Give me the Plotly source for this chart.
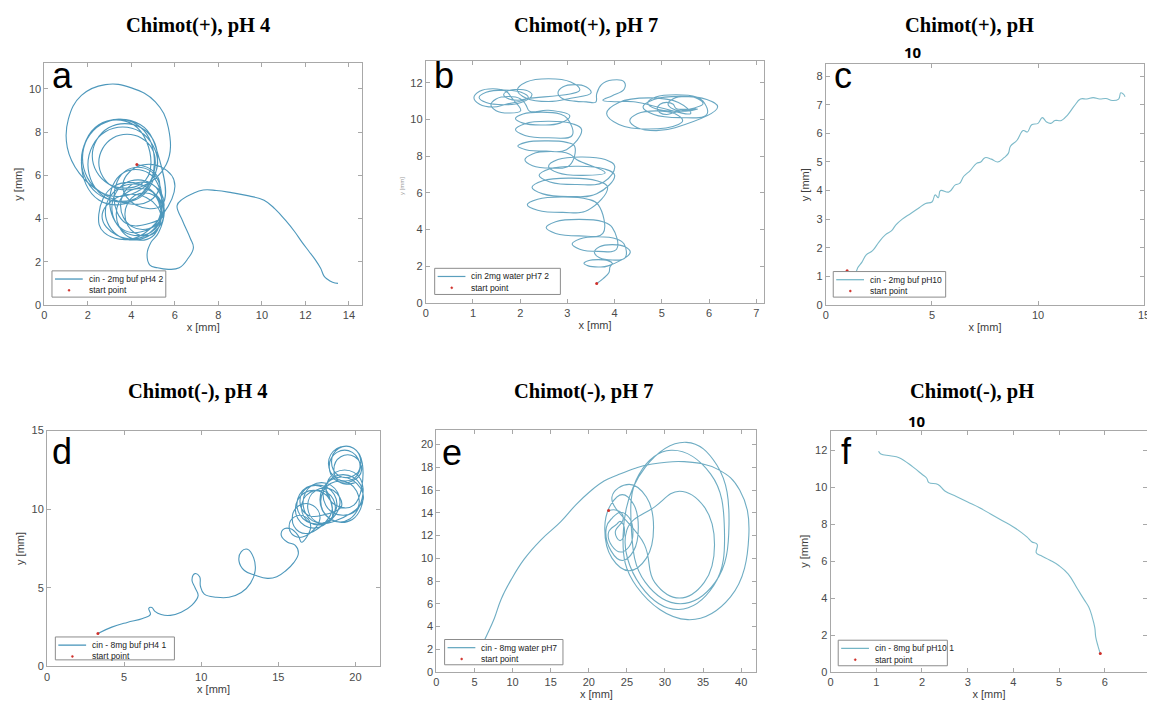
import plotly.graph_objects as go

W, H = 1155, 708

# ------------------------------------------------------------------ data
# (a) Chimot(+), pH 4  -- trajectory points (x [mm], y [mm])
traj_a = [
    (13.5, 1.0), (13.25, 1.05), (13.0, 1.2), (12.85, 1.35), (12.7, 1.7), (12.45, 2.1),
    (12.15, 2.5), (11.85, 2.9), (11.5, 3.4), (11.1, 3.9), (10.6, 4.45), (10.1, 4.85),
    (9.4, 5.05), (8.6, 5.2), (7.9, 5.3), (7.3, 5.32), (6.8, 5.15), (6.35, 4.9), (6.1, 4.6),
    (6.35, 3.9), (6.7, 3.1), (6.85, 2.65), (6.6, 2.15), (6.2, 1.72), (5.7, 1.65), (5.2, 1.72),
    (4.85, 1.85), (4.72, 2.35), (4.9, 2.9), (5.25, 3.35),
    (5.5, 4.5), (4.9, 5.63), (3.7, 5.63), (3.1, 4.5), (3.7, 3.37), (4.9, 3.37),
    (5.4, 4.3), (4.75, 5.43), (3.45, 5.43), (2.8, 4.3), (3.45, 3.17), (4.75, 3.17),
    (5.5, 4.2), (4.95, 5.24), (3.85, 5.24), (3.3, 4.2), (3.85, 3.16), (4.95, 3.16),
    (5.4, 4.8), (4.8, 6.1), (3.6, 6.1), (3.0, 4.8), (3.6, 3.5), (4.8, 3.5),
    (5.35, 4.1), (4.68, 4.97), (3.33, 4.97), (2.65, 4.1), (3.33, 3.23), (4.68, 3.23),
    (5.5, 4.6), (5.0, 5.56), (4.0, 5.56), (3.5, 4.6), (4.0, 3.64), (5.0, 3.64),
    (5.4, 5.0), (4.85, 6.22), (3.75, 6.22), (3.2, 5.0), (3.75, 3.78), (4.85, 3.78),
    (5.5, 4.2), (5.05, 5.07), (4.15, 5.07), (3.7, 4.2), (4.15, 3.33), (5.05, 3.33),
    (5.35, 4.4), (4.63, 5.49), (3.18, 5.49), (2.5, 4.2), (2.75, 3.35), (4.3, 3.15),
    (6.0, 5.5), (5.4, 6.37), (4.2, 6.37), (3.6, 5.5), (4.2, 4.63), (5.4, 4.63),
    (5.3, 6.7), (4.4, 8.35), (2.6, 8.35), (1.7, 6.7), (2.6, 5.05), (4.4, 5.05),
    (5.05, 6.8), (4.23, 8.37), (2.58, 8.37), (1.75, 6.8), (2.58, 5.23), (4.23, 5.23),
    (5.2, 6.5), (4.4, 8.02), (2.8, 8.02), (2.0, 6.5), (2.8, 4.98), (4.4, 4.98),
    (5.2, 6.9), (4.45, 8.2), (2.95, 8.2), (2.2, 6.9), (2.95, 5.6), (4.45, 5.6),
    (4.9, 6.6), (4.1, 8.34), (2.5, 8.34), (1.7, 6.6), (2.5, 4.86), (4.1, 4.86),
    (5.1, 6.6), (4.45, 7.73), (3.15, 7.73), (2.5, 6.6), (3.15, 5.47), (4.45, 5.47),
    (5.6, 6.5), (5.7, 8.2), (5.1, 9.4), (4.0, 10.05), (2.8, 10.2), (1.7, 9.7), (1.1, 8.6),
    (1.05, 7.3), (1.6, 6.1), (2.6, 5.2), (3.8, 4.7), (4.8, 4.8), (5.3, 5.5), (5.0, 6.2),
    (4.25, 6.5),
]
start_a = (4.25, 6.5)

# (b) Chimot(+), pH 7
traj_b = [
    (3.62, 1.05), (3.75, 1.3), (3.88, 1.65), (3.9, 1.95),
    (3.95, 2.15), (3.86, 2.29), (3.65, 2.35), (3.44, 2.29), (3.35, 2.15), (3.44, 2.01), (3.65, 1.95), (3.86, 2.01),
    (4.33, 2.75), (4.22, 3.05), (3.95, 3.17), (3.68, 3.05), (3.57, 2.75), (3.68, 2.45), (3.95, 2.33), (4.22, 2.45),
    (4.2, 3.2), (4.04, 3.48), (3.65, 3.6), (3.26, 3.48), (3.1, 3.2), (3.26, 2.92), (3.65, 2.8), (4.04, 2.92),
    (3.95, 4.1), (3.75, 4.42), (3.25, 4.55), (2.75, 4.42), (2.55, 4.1), (2.75, 3.78), (3.25, 3.65), (3.75, 3.78),
    (3.65, 5.35), (3.43, 5.65), (2.9, 5.77), (2.37, 5.65), (2.15, 5.35), (2.37, 5.05), (2.9, 4.93), (3.43, 5.05),
    (3.85, 6.3), (3.62, 6.66), (3.05, 6.8), (2.48, 6.66), (2.25, 6.3), (2.48, 5.94), (3.05, 5.8), (3.62, 5.94),
    (4.0, 6.95), (3.77, 7.31), (3.2, 7.45), (2.63, 7.31), (2.4, 6.95), (2.63, 6.59), (3.2, 6.45), (3.77, 6.59),
    (4.0, 7.45), (3.8, 7.81), (3.3, 7.95), (2.8, 7.81), (2.6, 7.45), (2.8, 7.09), (3.3, 6.95), (3.8, 7.09),
    (3.2, 7.8), (3.04, 8.12), (2.65, 8.25), (2.26, 8.12), (2.1, 7.8), (2.26, 7.48), (2.65, 7.35), (3.04, 7.48),
    (3.15, 8.55), (2.98, 8.75), (2.55, 8.83), (2.12, 8.75), (1.95, 8.55), (2.12, 8.35), (2.55, 8.27), (2.98, 8.35),
    (3.3, 9.45), (3.1, 9.77), (2.6, 9.9), (2.1, 9.77), (1.9, 9.45), (2.1, 9.13), (2.6, 9.0), (3.1, 9.13),
    (3.0, 10.05), (2.84, 10.3), (2.45, 10.4), (2.06, 10.3), (1.9, 10.05), (2.06, 9.8), (2.45, 9.7), (2.84, 9.8),
    (3.05, 10.2), (2.6, 10.5), (2.2, 10.45),
    (2.12, 10.8), (2.01, 11.12), (1.75, 11.25), (1.49, 11.12), (1.38, 10.8), (1.49, 10.48), (1.75, 10.35), (2.01, 10.48),
    (1.82, 11.18), (1.7, 11.54), (1.42, 11.68), (1.14, 11.54), (1.02, 11.18), (1.14, 10.83), (1.42, 10.68), (1.7, 10.83),
    (2.17, 11.2), (2.02, 11.48), (1.65, 11.6), (1.28, 11.48), (1.13, 11.2), (1.28, 10.92), (1.65, 10.8), (2.02, 10.92),
    (2.25, 11.35), (2.16, 11.56), (1.95, 11.65), (1.74, 11.56), (1.65, 11.35), (1.74, 11.14), (1.95, 11.05), (2.16, 11.14),
    (3.26, 11.6), (3.07, 12.04), (2.6, 12.22), (2.13, 12.04), (1.94, 11.6), (2.13, 11.16), (2.6, 10.98), (3.07, 11.16),
    (3.5, 11.45), (3.4, 11.77), (3.15, 11.9), (2.9, 11.77), (2.8, 11.45), (2.9, 11.13), (3.15, 11.0), (3.4, 10.96),
    (3.6, 10.95), (3.62, 11.4), (3.72, 11.9), (3.95, 12.15), (4.2, 12.05), (4.2, 11.65),
    (3.95, 11.3), (3.75, 11.05), (4.0, 10.97), (4.4, 10.97),
    (5.61, 10.33), (5.35, 10.93), (4.72, 11.18), (4.09, 10.93), (3.83, 10.33), (4.09, 9.73), (4.72, 9.48), (5.35, 9.73),
    (5.44, 9.93), (5.28, 10.31), (4.88, 10.47), (4.48, 10.31), (4.32, 9.93), (4.48, 9.55), (4.88, 9.39), (5.28, 9.55),
    (6.18, 10.68), (5.95, 11.09), (5.39, 11.26), (4.83, 11.09), (4.6, 10.68), (4.83, 10.27), (5.39, 10.1), (5.95, 10.27),
    (5.9, 10.9), (5.73, 11.22), (5.3, 11.35), (4.87, 11.22), (4.7, 10.9), (4.87, 10.58), (5.3, 10.45), (5.73, 10.58),
    (5.3, 10.6), (5.24, 10.83), (5.1, 10.93), (4.96, 10.83), (4.9, 10.6), (4.96, 10.37), (5.1, 10.27), (5.24, 10.37),
    (5.87, 10.85), (5.76, 11.13), (5.5, 11.25), (5.24, 11.13), (5.13, 10.85), (5.24, 10.57), (5.5, 10.45), (5.76, 10.57),
]
start_b = (3.62, 1.05)

# (c) Chimot(+), pH 10
traj_c = [
    (1.4, 1.05), (1.5, 1.3), (1.7, 1.5), (1.9, 1.75), (2.2, 1.9), (2.5, 2.2), (2.8, 2.45),
    (3.1, 2.6), (3.3, 2.8), (3.6, 3.0), (4.0, 3.2), (4.4, 3.4), (4.7, 3.55), (5.0, 3.6),
    (5.15, 3.85), (5.3, 3.75), (5.4, 4.0), (5.8, 3.95), (6.1, 4.2), (6.3, 4.25), (6.5, 4.5),
    (6.8, 4.7), (7.1, 4.95), (7.3, 5.0), (7.5, 5.15), (7.8, 5.1), (8.1, 5.0), (8.4, 5.15),
    (8.6, 5.3), (8.7, 5.55), (9.0, 5.75), (9.3, 6.1), (9.5, 6.05), (9.7, 6.3), (10.0, 6.35),
    (10.2, 6.55), (10.4, 6.4), (10.6, 6.35), (10.8, 6.45), (11.1, 6.45), (11.4, 6.65),
    (11.7, 6.95), (12.0, 7.2), (12.3, 7.2), (12.6, 7.25), (12.9, 7.2), (13.2, 7.22),
    (13.5, 7.15), (13.8, 7.2), (13.9, 7.42), (14.05, 7.35), (14.1, 7.28),
]
start_c = (1.0, 1.2)

# (d) Chimot(-), pH 4
traj_d = [
    (3.3, 2.1), (4.2, 2.5), (5.2, 2.8), (6.2, 3.05), (6.7, 3.3), (6.6, 3.7), (6.8, 3.75),
    (7.0, 3.5), (7.4, 3.3), (8.0, 3.25), (8.7, 3.45), (9.4, 3.9), (9.8, 4.5), (9.6, 5.0),
    (9.4, 5.5), (9.6, 5.9), (9.9, 5.7), (9.95, 5.1), (10.2, 4.6), (11.0, 4.4), (11.8, 4.4),
    (12.6, 4.7), (13.2, 5.3), (13.5, 6.1), (13.4, 6.9), (13.0, 7.45), (12.6, 7.3),
    (12.45, 6.7), (12.8, 6.1), (13.5, 5.8), (14.3, 5.6), (14.9, 5.7), (15.5, 6.1),
    (16.0, 6.6), (16.3, 7.2), (16.1, 7.7), (15.6, 7.9), (15.2, 8.3), (15.3, 8.7),
    (15.8, 8.75), (16.3, 8.3), (16.5, 7.9),
    (17.1, 8.9), (16.75, 9.51), (16.05, 9.51), (15.7, 8.9), (16.05, 8.29), (16.75, 8.29),
    (17.7, 9.4), (17.25, 10.23), (16.35, 10.23), (15.9, 9.4), (16.35, 8.57), (17.25, 8.57),
    (18.5, 10.0), (17.9, 11.04), (16.7, 11.04), (16.1, 10.0), (16.7, 8.96), (17.9, 8.96),
    (18.8, 10.3), (18.15, 11.39), (16.85, 11.39), (16.2, 10.3), (16.85, 9.21), (18.15, 9.21),
    (18.7, 10.1), (18.15, 11.06), (17.05, 11.06), (16.5, 10.1), (17.05, 9.14), (18.15, 9.14),
    (19.0, 10.4), (18.4, 11.53), (17.2, 11.53), (16.6, 10.4), (17.2, 9.27), (18.4, 9.27),
    (18.4, 10.5), (17.9, 11.37), (16.9, 11.37), (16.4, 10.5), (16.9, 9.63), (17.9, 9.63),
    (19.1, 10.2), (18.55, 11.2), (17.45, 11.2), (16.9, 10.2), (17.45, 9.2), (18.55, 9.2),
    (20.5, 10.6), (19.8, 11.86), (18.4, 11.86), (17.7, 10.6), (18.4, 9.34), (19.8, 9.34),
    (20.5, 10.9), (19.85, 12.03), (18.55, 12.03), (17.9, 10.9), (18.55, 9.77), (19.85, 9.77),
    (20.25, 10.5), (19.63, 11.63), (18.38, 11.63), (17.75, 10.5), (18.38, 9.37), (19.63, 9.37),
    (20.5, 11.3), (19.9, 12.34), (18.7, 12.34), (18.1, 11.3), (18.7, 10.26), (19.9, 10.26),
    (20.45, 12.9), (19.9, 13.86), (18.8, 13.86), (18.25, 12.9), (18.8, 11.94), (19.9, 11.94),
    (20.35, 13.0), (19.88, 13.87), (18.93, 13.87), (18.45, 13.0), (18.93, 12.13), (19.88, 12.13),
    (20.3, 12.7), (19.8, 13.61), (18.8, 13.61), (18.3, 12.7), (18.8, 11.79), (19.8, 11.79),
    (20.4, 12.5), (19.95, 13.33), (19.05, 13.33), (18.6, 12.5), (19.05, 11.67), (19.95, 11.67),
]
start_d = (3.3, 2.1)

# (e) Chimot(-), pH 7
traj_e = [
    (22.6, 14.2), (23.5, 14.25), (24.3, 14.0), (24.5, 13.4),
    (23.5, 12.4), (23.68, 11.8), (24.1, 11.55), (24.52, 11.8), (24.7, 12.4), (24.52, 13.0), (24.1, 13.25), (23.68, 13.0),
    (22.6, 12.3), (23.07, 11.06), (24.2, 10.55), (25.33, 11.06), (25.8, 12.3), (25.33, 13.54), (24.2, 14.05), (23.07, 13.54),
    (22.3, 12.7), (22.92, 10.65), (24.4, 9.8), (25.88, 10.65), (26.5, 12.7), (25.88, 14.75), (24.4, 15.6), (22.92, 14.75),
    (22.1, 12.7), (23.04, 10.01), (25.3, 8.9), (27.56, 10.01), (28.5, 12.7), (27.56, 15.39), (25.3, 16.5), (23.04, 15.39),
    (27.3, 11.2), (28.65, 7.88), (31.9, 6.5), (35.15, 7.88), (36.5, 11.2), (35.15, 14.52), (31.9, 15.9), (28.65, 14.52),
    (25.0, 12.5), (26.8, 7.6), (31.8, 5.5), (36.4, 7.6), (37.8, 12.5), (36.0, 17.4), (30.8, 19.5), (26.6, 17.4),
    (25.6, 12.5), (27.4, 7.9), (32.0, 6.0), (36.6, 7.9), (38.4, 13.0), (36.8, 18.2), (32.8, 20.2), (27.4, 18.0),
    (24.5, 12.0), (26.3, 7.5), (33.0, 4.6), (38.6, 6.6), (41.0, 12.0), (39.8, 16.0), (37.0, 17.8), (32.5, 18.5),
    (28.0, 18.25), (26.0, 17.9), (23.7, 17.3), (22.0, 16.8), (20.2, 15.9), (18.3, 14.7),
    (16.3, 13.2), (13.7, 11.6), (11.5, 9.9), (9.8, 8.1), (8.5, 6.4), (7.6, 4.7), (6.6, 3.2), (5.6, 1.8),
]
start_e = (22.6, 14.2)

# (f) Chimot(-), pH 10
traj_f = [
    (5.9, 1.0), (5.85, 1.4), (5.8, 1.9), (5.78, 2.4), (5.72, 3.0), (5.65, 3.5), (5.55, 3.9),
    (5.4, 4.5), (5.2, 5.3), (5.0, 5.75), (4.8, 6.05), (4.6, 6.3), (4.5, 6.45), (4.52, 6.9),
    (4.4, 7.05), (4.3, 7.3), (4.2, 7.5), (4.0, 7.85), (3.75, 8.2), (3.5, 8.55), (3.25, 8.9),
    (3.0, 9.2), (2.75, 9.5), (2.5, 9.8), (2.35, 10.15), (2.15, 10.25), (2.1, 10.5),
    (2.0, 10.7), (1.8, 11.1), (1.5, 11.6), (1.3, 11.7), (1.1, 11.8), (1.05, 11.95),
]
start_f = (5.9, 1.0)

legend_names = [
    "cin - 2mg buf pH4 2", "cin 2mg water pH7 2", "cin - 2mg buf pH10",
    "cin - 8mg buf pH4 1", "cin - 8mg water pH7", "cin - 8mg buf pH10 1",
]
titles = [
    "Chimot(+), pH 4", "Chimot(+), pH 7", "Chimot(+), pH",
    "Chimot(-), pH 4", "Chimot(-), pH 7", "Chimot(-), pH",
]
letters = ["a", "b", "c", "d", "e", "f"]
x_ranges = [[0, 14.6], [0, 7.17], [0, 15], [0, 21.6], [0, 42], [0, 6.93]]
y_ranges = [[0, 11.18], [0, 13.18], [0, 8.41], [0, 15], [0, 21.3], [0, 13.07]]
x_ticks = [list(range(0, 15, 2)), list(range(0, 8)), [0, 5, 10, 15],
           [0, 5, 10, 15, 20], list(range(0, 41, 5)), list(range(0, 7))]
y_ticks = [list(range(0, 11, 2)), list(range(0, 13, 2)), list(range(0, 9)),
           [0, 5, 10, 15], list(range(0, 21, 2)), list(range(0, 13, 2))]

trajs = [traj_a, traj_b, traj_c, traj_d, traj_e, traj_f]
starts = [start_a, start_b, start_c, start_d, start_e, start_f]

# ------------------------------------------------------------------ layout (page pixels)
OFF = 8  # page body margin of the html page
plot_px = [  # left, right, top, bottom
    (41.7, 361.7, 58.3, 304.0),
    (426.0, 767.3, 56.0, 301.7),
    (829.3, 1150.0, 59.3, 304.0),
    (44.3, 380.0, 431.7, 671.7),
    (436.7, 759.3, 431.0, 677.3),
    (834.0, 1153.3, 431.7, 677.3),
]
legend_box_px = [  # left, top, right, bottom
    (49.3, 269.3, 164.0, 296.0),
    (435.0, 266.7, 561.7, 293.3),
    (836.7, 270.0, 950.0, 296.0),
    (52.7, 641.7, 172.7, 665.0),
    (445.0, 644.3, 564.3, 670.0),
    (841.7, 645.0, 951.7, 671.0),
]
title_px = [(196, 20), (588, 20), (974, 20), (196, 392), (586, 392), (977, 392)]
letter_px = [(47, 71), (432, 71), (835, 71), (47, 453), (440, 454), (842, 453)]
ylabel_on = [True, False, True, True, False, True]
line_colors = ["#3a8db5", "#5a9fbd", "#6fb3c4", "#3a8db5", "#5fa4bd", "#6fb3c4"]


def px_x(v):
    return (v - OFF) / W


def px_y(v):
    return 1 - (v - OFF) / H


fig = go.Figure()
annotations, shapes = [], []
layout = dict(
    width=W, height=H, margin=dict(l=0, r=0, t=0, b=0),
    paper_bgcolor="white", plot_bgcolor="white",
    font=dict(family="Liberation Sans, Arial, sans-serif", color="#404040"),
    showlegend=False,
)

AX_COL = "#a8a8a8"
for i in range(6):
    sfx = "" if i == 0 else str(i + 1)
    xs = [p[0] for p in trajs[i]]
    ys = [p[1] for p in trajs[i]]
    fig.add_trace(go.Scatter(
        x=xs, y=ys, mode="lines", name=legend_names[i],
        line=dict(color=line_colors[i], width=1.1, shape="spline", smoothing=1.2),
        opacity=0.9, xaxis="x" + sfx, yaxis="y" + sfx,
    ))
    fig.add_trace(go.Scatter(
        x=[starts[i][0]], y=[starts[i][1]], mode="markers", name="start point",
        marker=dict(color="#d0302a", size=3), xaxis="x" + sfx, yaxis="y" + sfx,
    ))
    l, r, t, b = plot_px[i]
    common = dict(
        showline=True, linecolor=AX_COL, linewidth=1, mirror="ticks",
        ticks="inside", ticklen=4, tickcolor=AX_COL, showgrid=False, zeroline=False,
        tickfont=dict(size=11, color="#4a4a4a"), fixedrange=True,
    )
    layout["xaxis" + sfx] = dict(
        domain=[px_x(l), px_x(r)], range=x_ranges[i], tickvals=x_ticks[i],
        anchor="y" + sfx,
        title=dict(text="x [mm]", font=dict(size=11, color="#404040"), standoff=3),
        **common,
    )
    ydict = dict(
        domain=[px_y(b), px_y(t)], range=y_ranges[i], tickvals=y_ticks[i],
        anchor="x" + sfx, **common,
    )
    if ylabel_on[i]:
        ydict["title"] = dict(text="y [mm]", font=dict(size=11, color="#404040"), standoff=4)
    layout["yaxis" + sfx] = ydict

    # legend box (drawn like the MATLAB legend)
    bl, bt, br, bb = legend_box_px[i]
    row1 = bt + 8.3
    row2 = bt + 19.8
    shapes.append(dict(type="rect", xref="paper", yref="paper",
                       x0=px_x(bl), x1=px_x(br), y0=px_y(bb), y1=px_y(bt),
                       line=dict(color="#8c8c8c", width=1), fillcolor="white", layer="above"))
    shapes.append(dict(type="line", xref="paper", yref="paper",
                       x0=px_x(bl + 3), x1=px_x(bl + 31), y0=px_y(row1), y1=px_y(row1),
                       line=dict(color=line_colors[i], width=1.2), layer="above"))
    shapes.append(dict(type="circle", xref="paper", yref="paper",
                       x0=px_x(bl + 16.2), x1=px_x(bl + 18.2), y0=px_y(row2 + 1), y1=px_y(row2 - 1),
                       line=dict(color="#d0302a", width=0.5), fillcolor="#d0302a", layer="above"))
    annotations.append(dict(text=legend_names[i], x=px_x(bl + 35), y=px_y(row1),
                            xref="paper", yref="paper", xanchor="left", yanchor="middle",
                            showarrow=False, font=dict(size=8.5, color="#222")))
    annotations.append(dict(text="start point", x=px_x(bl + 35), y=px_y(row2),
                            xref="paper", yref="paper", xanchor="left", yanchor="middle",
                            showarrow=False, font=dict(size=8.5, color="#222")))

    tx, ty = title_px[i]
    annotations.append(dict(
        text="<b>" + titles[i] + "</b>", x=px_x(tx), y=px_y(ty), xref="paper", yref="paper",
        xanchor="center", yanchor="middle", showarrow=False,
        font=dict(family="Liberation Serif, Times New Roman, serif", size=20.5, color="black"),
    ))
    cx, cy = letter_px[i]
    annotations.append(dict(
        text=letters[i], x=px_x(cx), y=px_y(cy), xref="paper", yref="paper",
        xanchor="left", yanchor="middle", showarrow=False,
        font=dict(family="Liberation Sans, Arial, sans-serif", size=36, color="black"),
    ))

# "10" second line of panel c and f titles
for (tx, ty) in [(917, 47), (921, 422)]:
    annotations.append(dict(
        text="<b>10</b>", x=px_x(tx), y=px_y(ty), xref="paper", yref="paper",
        xanchor="center", yanchor="middle", showarrow=False,
        font=dict(family="Noto Sans, DejaVu Sans, sans-serif", size=15, color="black"),
    ))
# faint garbled y-label of panel b
annotations.append(dict(
    text="y [mm]", x=px_x(402), y=px_y(183), xref="paper", yref="paper",
    textangle=-90, showarrow=False, xanchor="center", yanchor="middle",
    font=dict(size=6, color="#9a9a9a"),
))

layout["annotations"] = annotations
layout["shapes"] = shapes
fig.update_layout(**layout)
fig.write_html("out.html", config={"displayModeBar": False})
